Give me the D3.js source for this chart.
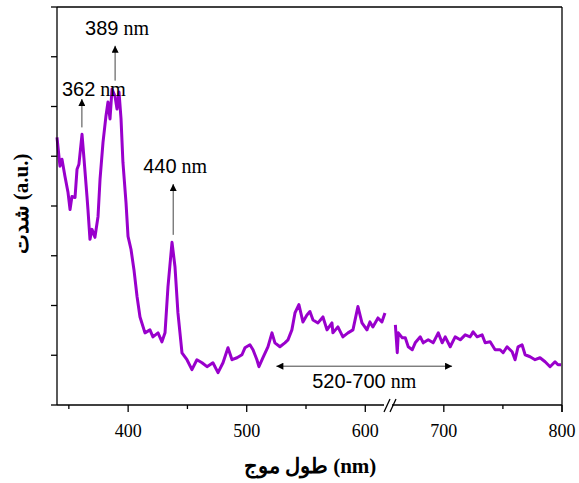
<!DOCTYPE html>
<html>
<head>
<meta charset="utf-8">
<script src="https://cdn.jsdelivr.net/npm/d3@7"></script>
<style>
  body { margin: 0; background: #fff; }
  svg { display: block; }
</style>
</head>
<body>
<svg id="chart" width="579" height="483"></svg>
<script>
// left part of the broken axis (340-620 nm)
const wavelengthA = [340.0, 342.5, 344.2, 346.7, 349.3, 351.0, 352.6, 355.2, 356.9, 358.5,
  361.1, 362.8, 365.3, 366.1, 367.8, 369.5, 372.0, 374.6, 376.3, 378.8,
  381.3, 383.0, 384.7, 386.4, 388.9, 390.6, 392.3, 394.0, 395.6, 398.2,
  399.9, 402.4, 404.9, 407.5, 410.0, 414.2, 418.4, 420.9, 425.2, 428.5,
  431.1, 433.6, 437.0, 439.5, 442.0, 445.4, 449.6, 453.8, 458.0, 462.3,
  466.5, 471.5, 475.8, 480.0, 484.2, 487.6, 491.8, 496.0, 498.5, 502.7,
  505.3, 508.6, 510.3, 513.7, 517.9, 521.3, 523.8, 528.0, 532.2, 534.8,
  538.1, 540.7, 544.0, 547.4, 550.8, 553.3, 555.9, 560.1, 564.3, 567.7,
  571.9, 572.7, 576.9, 581.1, 585.4, 589.6, 593.8, 597.2, 601.4, 603.9,
  606.4, 610.7, 614.0, 616.6];
const intensityA = [5.38, 4.80, 4.94, 4.60, 4.27, 3.93, 4.19, 4.17, 4.74, 4.84,
  5.44, 4.94, 4.19, 3.93, 3.33, 3.53, 3.37, 3.79, 4.54, 5.28,
  5.81, 6.09, 5.75, 6.35, 6.21, 5.95, 6.29, 5.75, 4.88, 4.07,
  3.39, 3.13, 2.72, 2.18, 1.77, 1.45, 1.51, 1.37, 1.45, 1.27,
  1.45, 2.38, 3.27, 2.78, 1.85, 1.05, 0.91, 0.71, 0.91, 0.85,
  0.77, 0.85, 0.65, 0.85, 1.15, 0.91, 0.95, 1.01, 1.15, 1.21,
  1.11, 0.91, 0.77, 0.95, 1.17, 1.45, 1.25, 1.17, 1.25, 1.31,
  1.51, 1.85, 2.02, 1.67, 1.81, 1.88, 1.71, 1.65, 1.77, 1.51,
  1.65, 1.45, 1.57, 1.37, 1.45, 1.51, 1.98, 1.65, 1.51, 1.67,
  1.57, 1.75, 1.67, 1.85];

// right part of the broken axis (657-800 nm)
const wavelengthB = [659.0, 660.6, 661.5, 664.9, 667.4, 669.9, 673.3, 675.8, 680.1, 682.6,
  686.8, 691.0, 695.3, 698.6, 701.2, 705.4, 709.6, 713.9, 718.1, 722.3,
  724.8, 728.2, 732.4, 735.0, 739.2, 743.4, 747.6, 750.2, 753.5, 757.8,
  760.3, 762.8, 766.2, 768.8, 773.0, 777.2, 781.4, 785.7, 789.9, 794.1,
  796.6, 799.2];
const intensityB = [1.61, 1.05, 1.45, 1.35, 1.35, 1.17, 1.11, 1.25, 1.37, 1.25,
  1.31, 1.25, 1.45, 1.25, 1.37, 1.17, 1.37, 1.31, 1.41, 1.37,
  1.47, 1.37, 1.41, 1.25, 1.27, 1.11, 1.11, 1.05, 1.17, 1.07,
  0.91, 1.17, 1.21, 1.01, 0.97, 0.91, 0.95, 0.87, 0.77, 0.87,
  0.81, 0.81];

const majorTicksA = [400, 500, 600];
const minorTicksA = [350, 450, 550];
const majorTicksB = [700, 800];
const minorTicksB = [750];
const yTicks = [0, 1, 2, 3, 4, 5, 6, 7, 8];

// peak annotations: wavelength, arrow from/to (intensity units)
const peakNm = [361, 389, 438];
const peakLabel = ["362", "389", "440"];
const arrowFrom = [5.58, 6.52, 3.42];
const arrowTo = [6.15, 7.22, 4.44];

const bandNm = [525, 707];
const bandLabel = "520-700";

const svg = d3.select("#chart");
const mTop = 7, mBottom = 405, mLeft = 57, mRight = 562, breakL = 389, breakR = 393;

const xA = d3.scaleLinear().domain([340, 620]).range([mLeft, breakL]);
const xB = d3.scaleLinear().domain([657, 800]).range([breakR, mRight]);
const y = d3.scaleLinear().domain([0, 8]).range([mBottom, mTop]);

const serif = "'Liberation Serif', 'Times New Roman', serif";
const sans = "'Liberation Sans', Arial, sans-serif";
const lineColor = "#9900cc";

// arrowhead
svg.append("defs").append("marker")
  .attr("id", "head")
  .attr("viewBox", "0 0 10 10")
  .attr("refX", 10).attr("refY", 5)
  .attr("markerWidth", 10).attr("markerHeight", 7)
  .attr("markerUnits", "userSpaceOnUse")
  .attr("orient", "auto-start-reverse")
  .append("path").attr("d", "M0,0 L10,5 L0,10 z").attr("fill", "#000");

// spectrum
const line = (xs) => d3.line().x(d => xs(d[0])).y(d => y(d[1]));
const segA = d3.zip(wavelengthA, intensityA);
const segB = d3.zip(wavelengthB, intensityB);

svg.append("path").datum(segA)
  .attr("d", line(xA))
  .attr("fill", "none").attr("stroke", lineColor)
  .attr("stroke-width", 3).attr("stroke-linejoin", "round");
svg.append("path").datum(segB)
  .attr("d", line(xB))
  .attr("fill", "none").attr("stroke", lineColor)
  .attr("stroke-width", 3).attr("stroke-linejoin", "round");

// frame
const axis = svg.append("g").attr("stroke", "#000").attr("stroke-width", 1.3).attr("fill", "none");
axis.append("line").attr("x1", mLeft).attr("x2", mLeft).attr("y1", mTop).attr("y2", mBottom);
axis.append("line").attr("x1", mRight).attr("x2", mRight).attr("y1", mTop).attr("y2", mBottom + 7);
axis.append("line").attr("x1", mLeft).attr("x2", mRight).attr("y1", mTop).attr("y2", mTop);
axis.append("line").attr("x1", mLeft).attr("x2", breakL - 5).attr("y1", mBottom).attr("y2", mBottom);
axis.append("line").attr("x1", breakR - 1).attr("x2", mRight).attr("y1", mBottom).attr("y2", mBottom);
// break marks
[-3, 3].forEach(o => {
  axis.append("line")
    .attr("x1", (breakL + breakR) / 2 + o - 4).attr("y1", mBottom + 7)
    .attr("x2", (breakL + breakR) / 2 + o + 2).attr("y2", mBottom - 6);
});

// y ticks
axis.selectAll("line.yt").data(yTicks).join("line").attr("class", "yt")
  .attr("x1", mLeft - 6).attr("x2", mLeft)
  .attr("y1", d => y(d)).attr("y2", d => y(d));

// x ticks
const xt = (scale, vals, len) => axis.selectAll(null).data(vals).join("line")
  .attr("x1", d => scale(d)).attr("x2", d => scale(d))
  .attr("y1", mBottom).attr("y2", mBottom + len);
xt(xA, majorTicksA, 7);
xt(xA, minorTicksA, 4);
xt(xB, majorTicksB, 7);
xt(xB, minorTicksB, 4);

const tl = svg.append("g").attr("font-family", serif).attr("font-size", 18)
  .attr("text-anchor", "middle").attr("fill", "#000");
tl.selectAll(null).data(majorTicksA).join("text")
  .attr("x", d => xA(d)).attr("y", mBottom + 32).text(d => d);
tl.selectAll(null).data(majorTicksB).join("text")
  .attr("x", d => xB(d)).attr("y", mBottom + 32).text(d => d);

// axis titles
svg.append("text")
  .attr("x", 310).attr("y", 473)
  .attr("text-anchor", "middle")
  .attr("font-family", serif).attr("font-weight", "bold").attr("font-size", 21)
  .text("طول موج  (nm)");

svg.append("text")
  .attr("transform", "translate(28,204) rotate(-90)")
  .attr("text-anchor", "middle")
  .attr("font-family", serif).attr("font-weight", "bold").attr("font-size", 21)
  .text("شدت (a.u.)");

// peak arrows
const ann = svg.append("g");
peakNm.forEach((nm, i) => {
  const px = xA(nm);
  ann.append("line")
    .attr("x1", px).attr("x2", px)
    .attr("y1", y(arrowFrom[i])).attr("y2", y(arrowTo[i]))
    .attr("stroke", "#444").attr("stroke-width", 1)
    .attr("marker-end", "url(#head)");
  const dx = i === 0 ? -20 : -30;
  const dy = i === 0 ? -3 : -11;
  const t = ann.append("text")
    .attr("x", px + dx).attr("y", y(arrowTo[i]) + dy)
    .attr("font-size", 20).attr("fill", "#000");
  t.append("tspan").attr("font-family", sans).text(peakLabel[i]);
  t.append("tspan").attr("font-family", serif).text(" nm");
});

// band arrow
const bandY = y(0.78);
ann.append("line")
  .attr("x1", xA(bandNm[0])).attr("x2", xB(bandNm[1]))
  .attr("y1", bandY).attr("y2", bandY)
  .attr("stroke", "#444").attr("stroke-width", 1)
  .attr("marker-start", "url(#head)").attr("marker-end", "url(#head)");
const bt = ann.append("text")
  .attr("x", (xA(bandNm[0]) + xB(bandNm[1])) / 2).attr("y", bandY + 22)
  .attr("text-anchor", "middle").attr("font-size", 20).attr("fill", "#000");
bt.append("tspan").attr("font-family", sans).text(bandLabel);
bt.append("tspan").attr("font-family", serif).text(" nm");
</script>
</body>
</html>
